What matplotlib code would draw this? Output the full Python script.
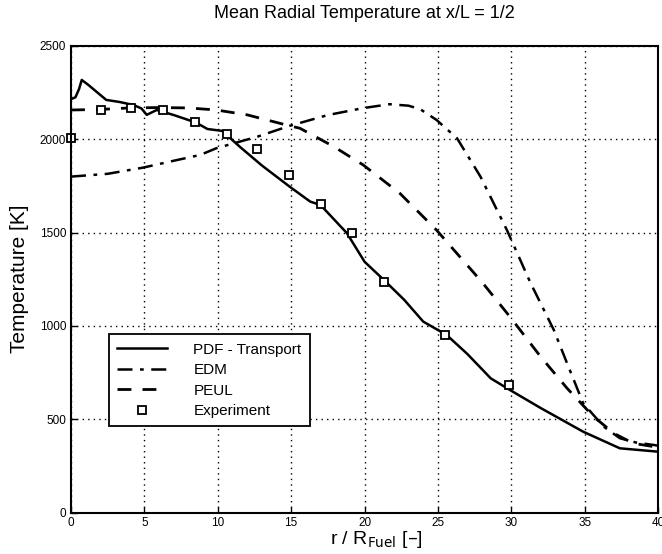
import matplotlib
matplotlib.use("Agg")
import matplotlib.pyplot as plt
import numpy as np

plt.rcParams['font.family'] = ['Liberation Sans', 'DejaVu Sans']

# PDF - Transport (solid)
pdf_r = [0.0, 0.3, 0.55, 0.73, 1.2, 2.4, 3.3, 4.25, 4.8, 5.16, 5.84, 7.0, 8.5, 9.3, 10.3, 11.5, 13.0, 14.9, 16.3, 17.0, 18.8, 20.0, 21.4, 22.7, 24.0, 25.6, 27.0, 28.6, 29.9, 32.0, 34.9, 37.4, 40.0]
pdf_T = [2215, 2225, 2270, 2318, 2290, 2211, 2200, 2184, 2165, 2131, 2157, 2130, 2090, 2055, 2045, 1960, 1860, 1746, 1666, 1648, 1497, 1344, 1240, 1140, 1023, 951, 850, 719, 657, 560, 433, 344, 326]

# EDM (dash-dot)
edm_r = [0.0, 2.5, 4.9, 7.0, 8.8, 9.9, 12.7, 14.9, 17.5, 19.9, 21.7, 23.0, 23.8, 24.9, 26.3, 27.9, 29.7, 31.3, 32.9, 33.8, 34.9, 36.3, 37.4, 38.5, 39.7, 40.0]
edm_T = [1800, 1815, 1848, 1885, 1916, 1952, 2014, 2072, 2130, 2167, 2188, 2180, 2161, 2104, 2006, 1800, 1514, 1232, 978, 800, 585, 460, 398, 375, 362, 358]

# PEUL (dashed)
peul_r = [0.0, 2.0, 4.0, 6.0, 8.0, 9.9, 12.0, 14.9, 15.6, 17.9, 19.9, 22.4, 24.9, 28.0, 29.9, 32.0, 33.8, 35.6, 37.0, 38.3, 39.7, 40.0]
peul_T = [2157, 2160, 2168, 2170, 2168, 2157, 2131, 2072, 2059, 1961, 1863, 1711, 1514, 1235, 1050, 835, 666, 514, 424, 371, 353, 350]

# Experiment (squares)
exp_r = [0.0, 2.05, 4.09, 6.3, 8.45, 10.6, 12.7, 14.86, 17.0, 19.15, 21.3, 25.45, 29.86]
exp_T = [2006, 2157, 2170, 2157, 2090, 2027, 1948, 1811, 1654, 1498, 1236, 950, 683]

xticks = [0, 5, 10, 15, 20, 25, 30, 35, 40]
yticks = [0, 500, 1000, 1500, 2000, 2500]

fig = plt.figure(figsize=(6.62, 5.54), dpi=100)
ax = fig.add_axes([0.1073, 0.0749, 0.8867, 0.8421])

ax.plot(pdf_r, pdf_T, color='black', linestyle='-', linewidth=1.8, label='PDF - Transport')
ax.plot(edm_r, edm_T, color='black', linestyle=(0, (6, 3, 1.5, 3)), linewidth=1.8, label='EDM')
ax.plot(peul_r, peul_T, color='black', linestyle=(0, (5, 4)), linewidth=2.0, label='PEUL')
ax.plot(exp_r, exp_T, linestyle='none', marker='s', markersize=6, markerfacecolor='white',
        markeredgecolor='black', markeredgewidth=1.3, label='Experiment', clip_on=False)

ax.set_xlim(0, 40)
ax.set_ylim(0, 2500)
ax.set_xticks(xticks)
ax.set_yticks(yticks)
ax.tick_params(direction='in', length=4, labelsize=8.5, width=1)
ax.grid(True, color='black', linestyle=(0, (1, 3)), linewidth=1.0)
for s in ax.spines.values():
    s.set_linewidth(1.5)

ax.set_title('Mean Radial Temperature at x/L = 1/2', fontsize=13, pad=20)
ax.set_xlabel(r'r / R$_{\mathrm{Fuel}}$ [–]', fontsize=14, labelpad=0)
ax.xaxis.set_label_coords(0.52, -0.035)
ax.set_ylabel('Temperature [K]', fontsize=15, labelpad=8)

leg = ax.legend(loc='lower left', bbox_to_anchor=(0.051, 0.168), fontsize=11,
                frameon=True, fancybox=False, edgecolor='black', handlelength=3.3,
                borderpad=0.55, labelspacing=0.42, handletextpad=1.7)
leg.get_frame().set_linewidth(1.3)
leg.get_frame().set_alpha(1)

fig.savefig('out.png', dpi=100)
